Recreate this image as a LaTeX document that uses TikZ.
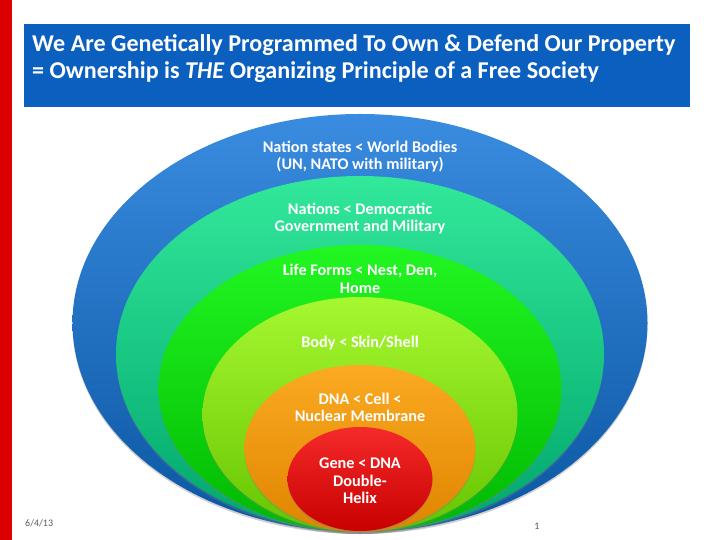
\documentclass[tikz,border=0pt]{standalone}
\usepackage{fontspec}
\setmainfont{Carlito}
\usetikzlibrary{shapes.geometric,shadows}
\definecolor{slidered}{HTML}{DD0000}
\definecolor{titleblue}{HTML}{0A5FBF}
\definecolor{datagray}{HTML}{595959}
\definecolor{bluetop}{HTML}{3A8CE0}
\definecolor{bluebot}{HTML}{0A56A2}
\definecolor{tealtop}{HTML}{32E89A}
\definecolor{tealbot}{HTML}{00A66C}
\definecolor{greentop}{HTML}{22F722}
\definecolor{greenbot}{HTML}{00B800}
\definecolor{limetop}{HTML}{A6F830}
\definecolor{limebot}{HTML}{66C400}
\definecolor{orangetop}{HTML}{FBAA22}
\definecolor{orangebot}{HTML}{E08400}
\definecolor{redtop}{HTML}{F52A2A}
\definecolor{redbot}{HTML}{C80000}

\begin{document}
\begin{tikzpicture}[x=1bp,y=-1bp,
  ring/.style={ellipse,inner sep=0pt,
    drop shadow={shadow xshift=0bp,shadow yshift=-2bp,opacity=0.35}},
  ringtext/.style={text=white,align=center,inner sep=0pt,
    font=\bfseries\fontsize{16.3}{17.5}\selectfont}]
  \useasboundingbox (0,0) rectangle (720,540);
  \fill[slidered] (0,0) rectangle (12,540);
  \node[fill=titleblue,anchor=north west,minimum width=666bp,
        minimum height=83bp,inner sep=0pt] (title) at (24,24) {};
  \node[text=white,anchor=west,align=left,inner sep=0pt,
        font=\bfseries\fontsize{24.2}{27}\selectfont] (head) at (32,59)
       {We Are Genetically Programmed To Own \& Defend Our Property\\
        = Ownership is \textit{THE} Organizing Principle of a Free Society};
  % nested rings, all resting on the same bottom line
  \node[ring,top color=bluetop,bottom color=bluebot,
        minimum width=575bp,minimum height=418bp] (world) at (360,323) {};
  \node[ring,top color=tealtop,bottom color=tealbot,
        minimum width=488bp,minimum height=356bp] (nation) at (360,354) {};
  \node[ring,top color=greentop,bottom color=greenbot,
        minimum width=403bp,minimum height=287bp] (life) at (360,388.5) {};
  \node[ring,top color=limetop,bottom color=limebot,
        minimum width=315bp,minimum height=235bp] (body) at (360,414.5) {};
  \node[ring,top color=orangetop,bottom color=orangebot,
        minimum width=231bp,minimum height=167bp] (cell) at (360,448.5) {};
  \node[ring,top color=redtop,bottom color=redbot,
        minimum width=145bp,minimum height=104bp] (gene) at (360,479) {};
  \node[ringtext] (worldtxt) at (360,156.5)
       {Nation states < World Bodies\\(UN, NATO with military)};
  \node[ringtext] (nationtxt) at (360,218.5)
       {Nations < Democratic\\Government and Military};
  \node[ringtext] (lifetxt) at (360,279)
       {Life Forms < Nest, Den,\\Home};
  \node[ringtext] (bodytxt) at (360,343) {Body < Skin/Shell};
  \node[ringtext] (celltxt) at (360,407.5)
       {DNA < Cell <\\Nuclear Membrane};
  \node[ringtext] (genetxt) at (360,481)
       {Gene < DNA\\Double-\\Helix};
  \node[text=datagray,anchor=west,inner sep=0pt,font=\fontsize{10}{12}\selectfont]
       (date) at (25,523) {6/4/13};
  \node[text=datagray,inner sep=0pt,font=\fontsize{10}{12}\selectfont]
       (page) at (537,526) {1};
\end{tikzpicture}
\end{document}
